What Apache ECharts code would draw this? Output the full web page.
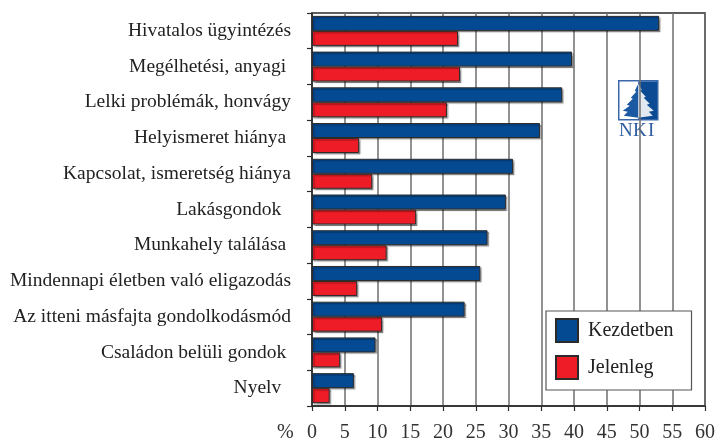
<!DOCTYPE html>
<html>
<head>
<meta charset="utf-8">
<script src="https://cdn.jsdelivr.net/npm/echarts@6/dist/echarts.min.js"></script>
<style>
  html, body { margin: 0; padding: 0; background: #fff; }
  #chart { width: 718px; height: 445px; }
</style>
</head>
<body>
<div id="chart"></div>
<script>
// categories, top to bottom
var categories = [
  'Hivatalos ügyintézés',
  'Megélhetési, anyagi ',
  'Lelki problémák, honvágy',
  'Helyismeret hiánya ',
  'Kapcsolat, ismeretség hiánya',
  'Lakásgondok  ',
  'Munkahely találása ',
  'Mindennapi életben való eligazodás',
  'Az itteni másfajta gondolkodásmód',
  'Családon belüli gondok ',
  'Nyelv  '
]
var kezdetben = [53.0, 39.7, 38.2, 34.8, 30.7, 29.6, 26.8, 25.7, 23.3, 9.7, 6.4]
var jelenleg = [22.3, 22.6, 20.6, 7.2, 9.2, 15.9, 11.4, 6.9, 10.7, 4.3, 2.7]
var xTicks = { min: 0, max: 60, interval: 5 }

var font = '"Liberation Serif", serif'
var barShadow = {
  borderColor: '#2b2b2b',
  borderWidth: 1,
  shadowColor: 'rgba(0,0,0,0.35)',
  shadowOffsetX: 1.5,
  shadowOffsetY: 1.5,
  shadowBlur: 1
}

var myChart = echarts.init(document.getElementById('chart'))
myChart.setOption({
  animation: false,
  grid: {
    left: 312, right: 13, top: 13, bottom: 39,
    show: true, borderColor: '#2b2b2b', borderWidth: 1.5
  },
  legend: {
    orient: 'vertical',
    left: 546, top: 311,
    padding: [7, 18, 10, 9],
    itemWidth: 22, itemHeight: 23, itemGap: 12,
    backgroundColor: '#fff',
    borderColor: '#555', borderWidth: 1.2,
    icon: 'rect',
    textStyle: { fontFamily: font, fontSize: 20, color: '#222', padding: [0, 0, 0, 5] },
    data: ['Kezdetben', 'Jelenleg']
  },
  xAxis: {
    type: 'value',
    min: xTicks.min, max: xTicks.max, interval: xTicks.interval,
    axisLine: { show: true, lineStyle: { color: '#2b2b2b', width: 1.5 } },
    axisTick: { show: true, length: 5, lineStyle: { color: '#2b2b2b', width: 1.2 } },
    splitLine: { show: true, lineStyle: { color: '#6e6e6e', width: 1.5 } },
    axisLabel: { fontFamily: font, fontSize: 20, color: '#333', margin: 17 }
  },
  yAxis: {
    type: 'category',
    inverse: true,
    data: categories,
    axisLine: { show: true, lineStyle: { color: '#2b2b2b', width: 1.5 } },
    axisTick: { show: true, length: 5, lineStyle: { color: '#2b2b2b', width: 1.2 } },
    axisLabel: { fontFamily: font, fontSize: 19.5, color: '#222', margin: 21 }
  },
  graphic: [
    {
      type: 'text', left: 277, top: 423,
      style: { text: '%', font: '20px ' + font, fill: '#333' }
    },
    {
      type: 'group', left: 618, top: 80,
      children: [
        { type: 'rect', shape: { x: 0, y: 0, width: 39, height: 39 },
          style: { fill: '#fff', stroke: '#3a68a8', lineWidth: 1.5 } },
        { type: 'rect', shape: { x: 19.5, y: 0.7, width: 18.8, height: 37.6 },
          style: { fill: '#0d4a94' } },
        { type: 'polygon',
          shape: { points: [[19.5,3],[16,10],[17.5,11],[12,17],[14,18],[8,24],[11,25],[4,30],[9,31],[5,35],[19.5,37]] },
          style: { fill: '#1b5aa3' } },
        { type: 'polygon',
          shape: { points: [[19.5,3],[23,9],[21.5,10],[27,16],[25,17],[31,23],[28,24],[35,30],[30,31],[34,35],[19.5,37]] },
          style: { fill: '#e3e9f1' } },
        { type: 'text', x: 7, y: 41,
          style: { text: 'N', font: '19px ' + font, fill: '#2c5c9e', align: 'center' } },
        { type: 'text', x: 21, y: 41,
          style: { text: 'K', font: '19px ' + font, fill: '#2c5c9e', align: 'center' } },
        { type: 'text', x: 32.5, y: 41,
          style: { text: 'I', font: '19px ' + font, fill: '#2c5c9e', align: 'center' } }
      ]
    }
  ],
  series: [
    {
      name: 'Kezdetben',
      type: 'bar',
      data: kezdetben,
      barWidth: 15,
      barGap: '0%',
      itemStyle: Object.assign({ color: '#044a93' }, barShadow)
    },
    {
      name: 'Jelenleg',
      type: 'bar',
      data: jelenleg,
      barWidth: 15,
      barGap: '0%',
      itemStyle: Object.assign({ color: '#ee1c26' }, barShadow)
    }
  ]
})
</script>
</body>
</html>
